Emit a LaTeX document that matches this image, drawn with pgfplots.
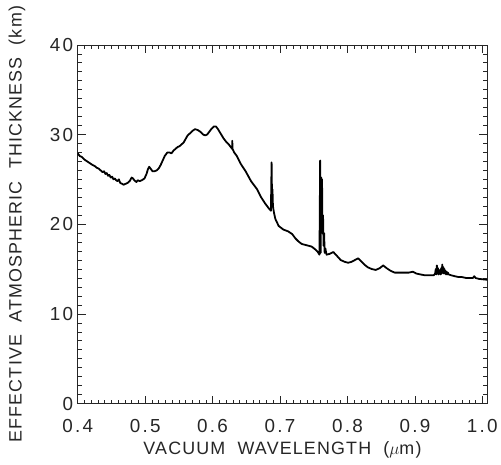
\documentclass[border=0pt]{standalone}
\usepackage{fontspec}
\setmainfont{Liberation Sans}[LetterSpace=6.5]
\newfontfamily\tickfont{Liberation Sans}[LetterSpace=12]
\usepackage{pgfplots}
\pgfplotsset{compat=1.18}

\begin{document}
\begin{tikzpicture}
  \begin{axis}[
      scale only axis, width=411bp, height=360bp,
      xmin=0.4, xmax=1.0073, ymin=0, ymax=40,
      xtick={0.4,0.5,...,1.0}, ytick={0,10,...,40},
      xticklabels={0.4,0.5,0.6,0.7,0.8,0.9,1.0},
      minor x tick num=9, minor y tick num=9,
      tick align=inside,
      major tick length=8bp, minor tick length=4bp,
      axis line style={line width=0.6pt, black!85},
      every tick/.style={line width=0.6pt, black!85},
      tick label style={font=\tickfont\fontsize{19}{21}\selectfont, black!85},
      /pgf/number format/assume math mode=true,
      xticklabel style={yshift=-12bp},
      yticklabel style={xshift=-1bp},
      label style={font=\fontsize{18}{20}\selectfont, black!85},
      xlabel={VACUUM\ \ WAVELENGTH\ \ ($\mu$m)},
      ylabel={EFFECTIVE\ \ ATMOSPHERIC\ \ THICKNESS\ \ (km)},
      xlabel style={at={(axis description cs:0.5,-0.128)}, anchor=center},
      ylabel style={at={(axis description cs:-0.148,0.5)}, anchor=center},
    ]
    \addplot[black, line width=1.8pt, line join=round] coordinates {
      (0.400,27.9) (0.403,27.6) (0.406,27.5) (0.410,27.2) (0.414,27.0)
      (0.418,26.8) (0.422,26.6) (0.425,26.5) (0.428,26.3) (0.431,26.2)
      (0.434,26.0) (0.437,25.8) (0.439,25.9) (0.441,25.6) (0.443,25.7)
      (0.445,25.4) (0.447,25.5) (0.449,25.2) (0.451,25.3) (0.453,25.0)
      (0.455,25.1) (0.457,24.9) (0.459,24.8) (0.461,25.0) (0.463,24.6)
      (0.466,24.5) (0.468,24.4) (0.471,24.5) (0.474,24.6) (0.477,24.8)
      (0.480,25.2) (0.482,25.1) (0.484,24.9) (0.487,24.7) (0.489,24.9)
      (0.492,24.8) (0.495,24.9) (0.499,25.1) (0.502,25.6) (0.504,26.1)
      (0.506,26.4) (0.508,26.2) (0.511,25.9) (0.514,25.9) (0.517,26.0)
      (0.520,26.2) (0.523,26.6) (0.526,27.1) (0.529,27.6) (0.533,28.0)
      (0.536,28.0) (0.539,27.9) (0.542,28.2) (0.545,28.4) (0.548,28.6)
      (0.551,28.7) (0.554,28.9) (0.557,29.1) (0.560,29.5) (0.563,29.9)
      (0.566,30.1) (0.570,30.4) (0.574,30.6) (0.578,30.5) (0.582,30.3)
      (0.586,30.0) (0.589,29.9) (0.592,30.0) (0.595,30.3) (0.598,30.6)
      (0.602,30.9) (0.605,30.9) (0.608,30.6) (0.612,30.1) (0.616,29.6)
      (0.620,29.2) (0.624,28.9) (0.627,28.6) (0.629,28.4) (0.6292,29.3)
      (0.6296,28.4) (0.632,28.0) (0.636,27.6) (0.642,26.7) (0.649,25.9)
      (0.657,24.8) (0.666,23.9) (0.672,23.0) (0.678,22.3) (0.683,21.8)
      (0.6865,21.5) (0.6875,26.9) (0.6882,22.6) (0.6888,23.9) (0.6895,22.0)
      (0.691,21.3) (0.693,20.6) (0.698,19.8) (0.705,19.4) (0.712,19.2)
      (0.718,18.9) (0.723,18.4) (0.727,18.1) (0.732,17.8) (0.737,17.7)
      (0.742,17.6) (0.747,17.5) (0.752,17.2) (0.756,16.9) (0.7585,16.6)
      (0.7595,27.1) (0.7602,16.8) (0.7612,25.2) (0.7618,24.6) (0.7623,25.0)
      (0.7630,19.0) (0.7638,21.0) (0.7646,17.6) (0.7654,19.0) (0.7662,16.8)
      (0.7672,17.3) (0.769,16.6) (0.774,16.7) (0.779,16.9) (0.784,16.5)
      (0.790,16.0) (0.796,15.8) (0.801,15.7) (0.806,15.8) (0.811,16.0)
      (0.816,16.2) (0.820,15.9) (0.825,15.5) (0.830,15.2) (0.836,15.0)
      (0.842,14.9) (0.848,15.1) (0.853,15.4) (0.858,15.1) (0.864,14.8)
      (0.870,14.6) (0.877,14.6) (0.884,14.6) (0.891,14.6) (0.897,14.7)
      (0.902,14.5) (0.908,14.4) (0.915,14.3) (0.922,14.3) (0.928,14.3)
      (0.9300,14.5) (0.9310,15.0) (0.9318,14.4) (0.9326,15.4) (0.9334,14.5)
      (0.9342,15.1) (0.9350,14.4) (0.9358,14.9) (0.9366,14.5) (0.9374,14.6)
      (0.9382,14.4) (0.9390,15.1) (0.9398,14.5) (0.9406,15.5) (0.9414,14.6)
      (0.9422,15.2) (0.9430,14.5) (0.9438,15.0) (0.9446,14.5) (0.9454,14.8)
      (0.9462,14.4) (0.9470,14.7) (0.9480,14.4) (0.9490,14.6) (0.950,14.4)
      (0.954,14.3) (0.959,14.2) (0.965,14.1) (0.970,14.1) (0.976,14.0)
      (0.982,14.0) (0.986,14.0) (0.988,14.2) (0.990,14.0) (0.995,13.9)
      (1.0073,13.8)
    };
  \end{axis}
  \path ([xshift=-78bp,yshift=-61bp]current axis.south west)
    rectangle ([xshift=12bp,yshift=45bp]current axis.north east);
\end{tikzpicture}
\end{document}
